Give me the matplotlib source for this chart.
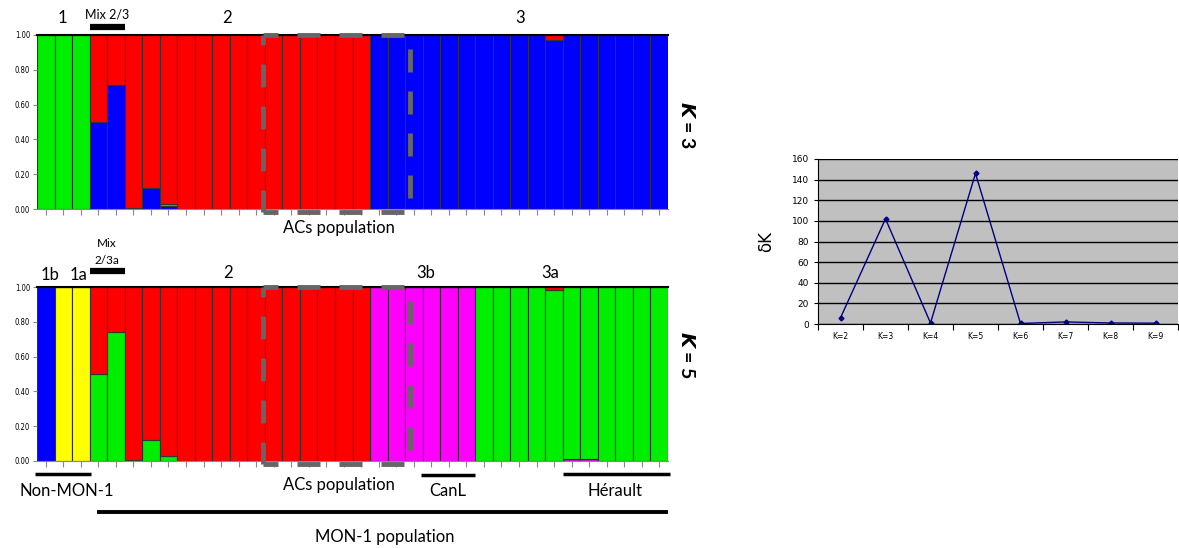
import matplotlib.pyplot as plt
import numpy as np

plt.rcParams["font.family"] = ["Lato", "DejaVu Sans"]

# STRUCTURE membership proportions, 36 individuals
# K = 3 (stack order: blue, green, red)
k3_blue = [0, 0, 0, 0.50, 0.71, 0.005, 0.12, 0.02, 0, 0, 0, 0, 0, 0, 0, 0, 0, 0, 0,
           1, 1, 1, 1, 1, 1, 1, 1, 1, 1, 0.97, 1, 1, 1, 1, 1, 1]
k3_green = [1, 1, 1, 0, 0, 0, 0, 0.01, 0, 0, 0, 0, 0, 0, 0, 0, 0, 0, 0,
            0, 0, 0, 0, 0, 0, 0, 0, 0, 0, 0, 0, 0, 0, 0, 0, 0]

# K = 5 (stack order: blue, magenta, yellow, green, red)
k5_blue = [1, 0, 0, 0, 0, 0, 0, 0, 0, 0, 0, 0, 0, 0, 0, 0, 0, 0, 0,
           0, 0, 0, 0, 0, 0, 0, 0, 0, 0, 0, 0, 0, 0, 0, 0, 0]
k5_magenta = [0, 0, 0, 0, 0, 0, 0, 0, 0, 0, 0, 0, 0, 0, 0, 0, 0, 0, 0,
              1, 1, 1, 1, 1, 1, 0, 0, 0, 0, 0, 0.012, 0.012, 0, 0, 0, 0]
k5_yellow = [0, 1, 1, 0, 0, 0, 0, 0, 0, 0, 0, 0, 0, 0, 0, 0, 0, 0, 0,
             0, 0, 0, 0, 0, 0, 0, 0, 0, 0, 0, 0, 0, 0, 0, 0, 0]
k5_green = [0, 0, 0, 0.50, 0.74, 0.005, 0.12, 0.03, 0, 0, 0, 0, 0, 0, 0, 0, 0, 0, 0,
            0, 0, 0, 0, 0, 0, 1, 1, 1, 1, 0.985, 0.988, 0.988, 1, 1, 1, 1]

# Evanno delta K
k_labels = ["K=2", "K=3", "K=4", "K=5", "K=6", "K=7", "K=8", "K=9"]
delta_k = [6, 102, 1, 146, 0.5, 2, 1, 0.8]

W, H = 1179, 548
fig = plt.figure(figsize=(W / 100, H / 100), dpi=100)

DASH_LW = 3.5
PX_PER_LW = DASH_LW * 100 / 72  # pixels per dash unit


def fx(px):
    return px / W


def fy(py):
    return 1 - py / H


def dashed(ax, xs, ys, off_px):
    # one side of the ACs box, dashes ~23 px long, gaps ~19 px
    ax.plot(xs, ys, color="#666666", lw=DASH_LW, clip_on=False, zorder=5,
            ls=(off_px / PX_PER_LW, (23 / PX_PER_LW, 19 / PX_PER_LW)),
            solid_capstyle="butt", dash_capstyle="butt")


def struct_axes(top_px, comps):
    ax = fig.add_axes([fx(37), fy(top_px + 174), fx(631), 174 / H])
    x = np.arange(36)
    bottom = np.zeros(36)
    for vals, col in comps:
        vals = np.array(vals, dtype=float)
        ax.bar(x, vals, 1.0, bottom=bottom, color=col, edgecolor="#333333", linewidth=0.8)
        bottom += vals
    red = 1 - bottom
    ax.bar(x, red, 1.0, bottom=bottom, color="#FF0000", edgecolor="#333333", linewidth=0.8)
    ax.set_xlim(-0.5, 35.5)
    ax.set_ylim(0, 1)
    ax.set_yticks(np.arange(0, 1.01, 0.2))
    ax.set_yticklabels(["%.2f" % v for v in np.arange(0, 1.01, 0.2)], fontsize=5.5,
                       family="DejaVu Sans", stretch="condensed")
    ax.set_xticks(x)
    ax.set_xticklabels([])
    ax.tick_params(axis="x", length=4, color="#888888", direction="out")
    ax.tick_params(axis="y", length=3, color="#888888", pad=2)
    for s in ["right", "left"]:
        ax.spines[s].set_visible(False)
    ax.spines["top"].set_linewidth(1.5)
    ax.spines["bottom"].set_color("#888888")
    # dashed box around ACs population
    xl, xr, xt = 12.4, 20.78, 20.5
    yb = -0.015
    dashed(ax, [xl, xt], [1.0, 1.0], 8)
    dashed(ax, [xl, xt], [yb, yb], 8)
    dashed(ax, [xl, xl], [1.0, yb], 13)
    dashed(ax, [xr, xr], [1.0, yb], 28)
    return ax


# ---- K = 3 ----
ax1 = struct_axes(35, [(k3_blue, "#0000FF"), (k3_green, "#00EE00")])
tr = ax1.get_xaxis_transform()
ax1.text(0.93, 1.1, "1", fontsize=12, ha="center", va="center", transform=tr)
ax1.text(3.5, 1.12, "Mix 2/3", fontsize=9, ha="center", va="center", transform=tr)
ax1.plot([2.5, 4.5], [1.046, 1.046], color="black", lw=4.5, transform=tr, clip_on=False,
         solid_capstyle="butt")
ax1.text(10.35, 1.1, "2", fontsize=12, ha="center", va="center", transform=tr)
ax1.text(27.05, 1.1, "3", fontsize=12, ha="center", va="center", transform=tr)
ax1.text(16.7, -0.11, "ACs population", fontsize=12, ha="center", va="center", transform=tr)
ax1.text(36.6, 0.48, r"$\boldsymbol{K}$ = 3", fontsize=14, fontweight="bold",
         rotation=-90, ha="center", va="center", transform=tr)

# ---- K = 5 ----
ax2 = struct_axes(287, [(k5_blue, "#0000FF"), (k5_magenta, "#FF00FF"),
                        (k5_yellow, "#FFFF00"), (k5_green, "#00EE00")])
tr = ax2.get_xaxis_transform()
ax2.text(0.24, 1.07, "1b", fontsize=12, ha="center", va="center", transform=tr)
ax2.text(1.85, 1.07, "1a", fontsize=12, ha="center", va="center", transform=tr)
ax2.text(3.5, 1.25, "Mix", fontsize=8.5, ha="center", va="center", transform=tr)
ax2.text(3.5, 1.155, "2/3a", fontsize=8.5, ha="center", va="center", transform=tr)
ax2.plot([2.5, 4.5], [1.092, 1.092], color="black", lw=4.5, transform=tr, clip_on=False,
         solid_capstyle="butt")
ax2.text(10.4, 1.08, "2", fontsize=12, ha="center", va="center", transform=tr)
ax2.text(21.7, 1.08, "3b", fontsize=12, ha="center", va="center", transform=tr)
ax2.text(28.8, 1.08, "3a", fontsize=12, ha="center", va="center", transform=tr)
ax2.text(36.6, 0.61, r"$\boldsymbol{K}$ = 5", fontsize=14, fontweight="bold",
         rotation=-90, ha="center", va="center", transform=tr)

for (x0, x1, y) in [(-0.6, 2.6, -0.075), (21.4, 24.5, -0.08), (29.5, 35.6, -0.075)]:
    ax2.plot([x0, x1], [y, y], color="black", lw=2.5, transform=tr, clip_on=False,
             solid_capstyle="butt")
ax2.plot([2.9, 35.5], [-0.293, -0.293], color="black", lw=2.8, transform=tr, clip_on=False,
         solid_capstyle="butt")
ax2.text(1.2, -0.17, "Non-MON-1", fontsize=12, ha="center", va="center", transform=tr)
ax2.text(16.7, -0.14, "ACs population", fontsize=12, ha="center", va="center", transform=tr)
ax2.text(22.95, -0.17, "CanL", fontsize=12, ha="center", va="center", transform=tr)
ax2.text(32.5, -0.17, "Hérault", fontsize=12, ha="center", va="center", transform=tr)
ax2.text(19.35, -0.435, "MON-1 population", fontsize=12, ha="center", va="center",
         transform=tr)

# ---- delta K ----
ax3 = fig.add_axes([fx(818), fy(324), fx(360), 165 / H])
ax3.set_facecolor("#C0C0C0")
xk = np.arange(len(k_labels))
ax3.plot(xk, delta_k, color="#000080", lw=1.0, marker="D", markersize=2.5)
ax3.set_xlim(-0.5, len(k_labels) - 0.5)
ax3.set_ylim(0, 160)
ax3.set_yticks(np.arange(0, 161, 20))
ax3.yaxis.grid(True, color="black", lw=1)
ax3.set_axisbelow(True)
ax3.set_xticks(np.arange(-0.5, len(k_labels), 1))
ax3.set_xticklabels([])
ax3.set_xticks(xk, minor=True)
ax3.set_xticklabels(k_labels, minor=True, fontsize=5.5, family="DejaVu Sans")
ax3.tick_params(axis="x", which="major", length=4, direction="out")
ax3.tick_params(axis="x", which="minor", length=0, pad=6)
ax3.tick_params(axis="y", labelsize=6.5, length=3)
for t in ax3.get_yticklabels():
    t.set_family("DejaVu Sans")
ax3.spines["top"].set_visible(False)
ax3.spines["right"].set_visible(False)
ax3.set_ylabel("δK", fontsize=12, family="DejaVu Sans", labelpad=12)

fig.savefig("out.png", dpi=100)
